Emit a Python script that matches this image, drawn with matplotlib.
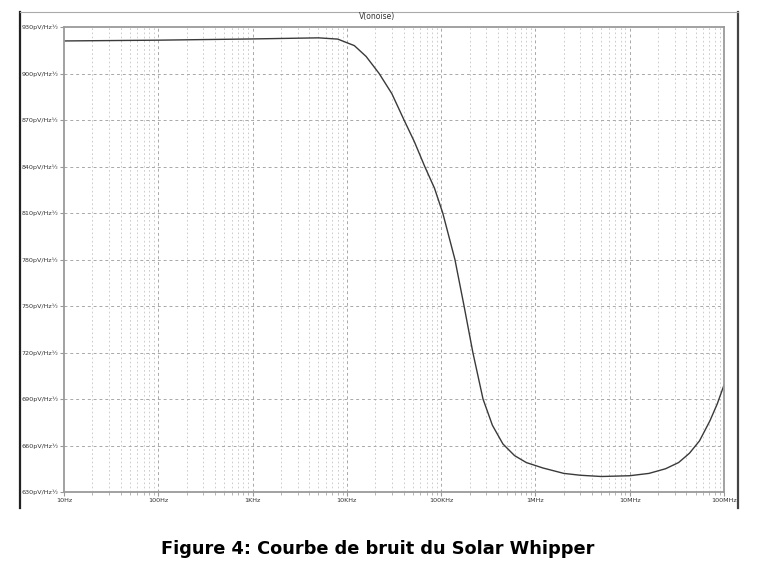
import numpy as np
import matplotlib.pyplot as plt
from matplotlib.lines import Line2D
from matplotlib.ticker import FixedLocator, NullFormatter

# V(onoise)
freq = [10, 100, 1e3, 5e3, 8e3, 1.2e4, 1.6e4, 2.2e4, 3e4, 4.04e4, 5.2e4, 6.7e4,
        8.5e4, 1.04e5, 1.4e5, 1.75e5, 2.17e5, 2.78e5, 3.5e5, 4.52e5,
        6e5, 8e5, 1.2e6, 2e6, 3e6, 5e6, 1e7, 1.6e7, 2.4e7, 3.3e7,
        4.3e7, 5.5e7, 7.1e7, 8.5e7, 1e8]
noise = [921, 921.5, 922.3, 923, 922.2, 918, 911, 900, 887, 870, 856, 840,
         826, 810, 780, 750, 720, 690, 673, 661,
         653.5, 649, 645.5, 642, 640.8, 640, 640.5, 642, 645, 649,
         655, 663, 676, 687, 699]

y_ticks = [630, 660, 690, 720, 750, 780, 810, 840, 870, 900, 930]
y_labels = ["%dpV/Hz½" % v for v in y_ticks]
x_ticks = [1e1, 1e2, 1e3, 1e4, 1e5, 1e6, 1e7, 1e8]
x_labels = ["10Hz", "100Hz", "1KHz", "10KHz", "100KHz", "1MHz", "10MHz", "100MHz"]

fig = plt.figure(figsize=(7.68, 5.66), dpi=100)
W, H = 768, 566

# screenshot frame
fig.add_artist(Line2D([20/W, 20/W], [1-12/H, 1-508/H], color="#222222", lw=1.6))
fig.add_artist(Line2D([738/W, 738/W], [1-12/H, 1-508/H], color="#444444", lw=1.6))
fig.add_artist(Line2D([20/W, 738/W], [1-12/H, 1-12/H], color="#aaaaaa", lw=0.8))

ax = fig.add_axes([64/W, 1-492/H, 660/W, 465/H])
ax.set_xscale("log")
ax.set_xlim(10, 1e8)
ax.set_ylim(630, 930)

minors = [m * 10.0**d for d in range(1, 8) for m in range(2, 10)]
for f in minors:
    ax.axvline(f, color="#c4c4c4", lw=0.6, ls=(0, (2, 3)), zorder=0)
for f in x_ticks[1:-1]:
    ax.axvline(f, color="#a8a8a8", lw=0.7, ls=(0, (3, 3)), zorder=0)
for v in y_ticks[1:-1]:
    ax.axhline(v, color="#a8a8a8", lw=0.7, ls=(0, (3, 3)), zorder=0)

ax.plot(freq, noise, color="#3a3a3a", lw=1.0)

ax.xaxis.set_major_locator(FixedLocator(x_ticks))
ax.xaxis.set_minor_locator(FixedLocator(minors))
ax.xaxis.set_minor_formatter(NullFormatter())
ax.set_xticklabels(x_labels)
ax.set_yticks(y_ticks)
ax.set_yticklabels(y_labels)
ax.tick_params(axis="both", which="major", labelsize=4.6, colors="#999999",
               labelcolor="#333333", length=3, width=0.8, pad=1)
ax.tick_params(axis="x", which="minor", length=2, colors="#aaaaaa")

for s in ax.spines.values():
    s.set_color("#9a9a9a")
    s.set_linewidth(1.3)

fig.text(377/W, 1-17/H, "V(onoise)", ha="center", va="center", fontsize=5.5, color="#333333")
fig.text(378/W, 1-549/H, "Figure 4: Courbe de bruit du Solar Whipper",
         ha="center", va="center", fontsize=12.8, fontweight="bold", color="black")

fig.savefig("out.png", dpi=100)
